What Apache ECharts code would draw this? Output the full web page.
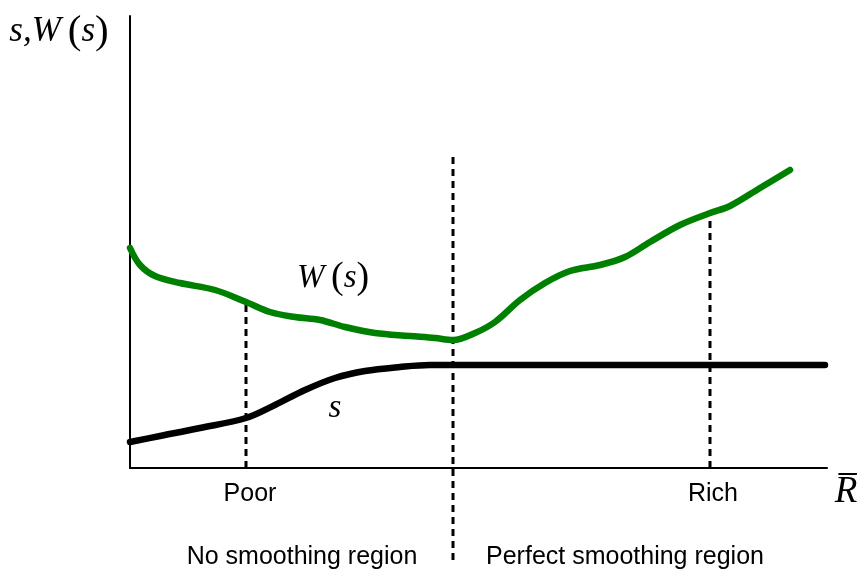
<!DOCTYPE html>
<html><head><meta charset="utf-8">
<script src="https://cdn.jsdelivr.net/npm/echarts@6/dist/echarts.min.js"></script>
<style>html,body{margin:0;padding:0;background:#fff}#c{width:858px;height:573px}</style>
</head><body><div id="c"></div>
<script>
// Values (x: along R-bar axis, y: s / W(s) level)
const wCurve = [[0,220],[10,203],[25,192],[50,185],[85,178],[116,166],[140,156],[165,151],[190,148],[215,141],[245,135],[280,132],[305,130],[323,128],[345,135],[365,146],[390,168],[415,185],[440,197],[470,203],[495,211],[520,226],[550,243],[580,255],[600,262],[630,280],[660,298]];
const sCurve = [[0,26],[30,32],[70,40],[116,50],[145,63],[175,78],[205,90],[235,97],[270,101],[300,103],[323,103],[695,103]];
const poorLine = [[116,0],[116,166]];
const splitLine = [[323,-92],[323,311]];
const richLine = [[580,0],[580,255]];
const textLabels = [
  {name:'W(s)', value:[203,190], kind:'wlab'},
  {name:'s', value:[205,60], kind:'slab'},
  {name:'Poor', value:[120,-26], kind:'plain'},
  {name:'Rich', value:[583,-26], kind:'plain'},
  {name:'Rbar', value:[716,-24], kind:'rbar'},
  {name:'No smoothing region', value:[172,-89], kind:'plain'},
  {name:'Perfect smoothing region', value:[495,-89], kind:'plain'},
  {name:'yname', value:[-71,436], kind:'yname'}
];

const serif = '"Liberation Serif","DejaVu Serif",serif';
const sans = '"Liberation Sans",Arial,sans-serif';
const rich = {
  it:{fontFamily:serif,fontStyle:'italic',fontSize:35,color:'#000'},
  par:{fontFamily:serif,fontSize:41,color:'#000'},
  it2:{fontFamily:serif,fontStyle:'italic',fontSize:33,color:'#000'},
  par2:{fontFamily:serif,fontSize:38,color:'#000'},
  pl:{fontFamily:sans,fontSize:25,color:'#000'},
  rb:{fontFamily:serif,fontStyle:'italic',fontSize:37,color:'#000'}
};
function fmt(p){
  const k = p.data.kind;
  if(k==='wlab') return '{it2|W\u2009}{par2|(}{it2|s}{par2|)}';
  if(k==='slab') return '{it2|s}';
  if(k==='yname') return '{it|s,W\u2009}{par|(}{it|s}{par|)}';
  if(k==='rbar') return '{rb|R\u0305}';
  return '{pl|'+p.data.name+'}';
}
function dashSeries(d){
  return {type:'line',data:d,symbol:'none',clip:false,silent:true,
    lineStyle:{color:'#000',width:3,type:[7,5]},z:1};
}
const chart = echarts.init(document.getElementById('c'));
chart.setOption({
  animation:false,
  grid:{left:130,right:31,top:16,bottom:105},
  xAxis:{type:'value',min:0,max:697,axisLine:{show:true,lineStyle:{color:'#000',width:2}},
    axisTick:{show:false},axisLabel:{show:false},splitLine:{show:false}},
  yAxis:{type:'value',min:0,max:452,axisLine:{show:true,lineStyle:{color:'#000',width:2}},
    axisTick:{show:false},axisLabel:{show:false},splitLine:{show:false}},
  series:[
    dashSeries(poorLine), dashSeries(splitLine), dashSeries(richLine),
    {type:'line',data:sCurve,smooth:0.35,symbol:'none',lineStyle:{color:'#000',width:6.5,cap:'round'},z:3},
    {type:'line',data:wCurve,smooth:0.35,symbol:'none',lineStyle:{color:'#008000',width:6.5,cap:'round'},z:4},
    {type:'scatter',data:textLabels,symbolSize:0,clip:false,silent:true,z:5,
      itemStyle:{opacity:1,color:'#000'},
      label:{show:true,opacity:1,position:'inside',align:'center',verticalAlign:'middle',color:'#000',textBorderWidth:0,formatter:fmt,rich:rich}}
  ]
});
</script></body></html>
